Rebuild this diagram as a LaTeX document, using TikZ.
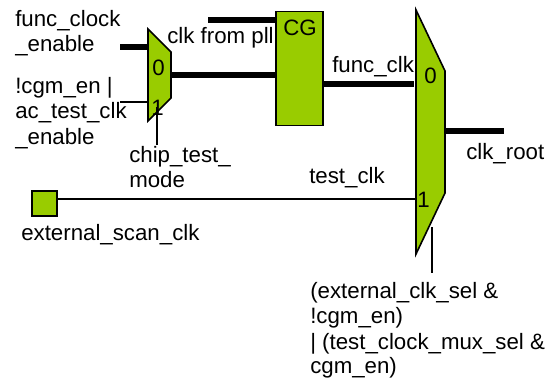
\documentclass[tikz,border=0pt]{standalone}
\usepackage{fontspec}
\setmainfont{Liberation Sans}
\definecolor{muxgreen}{RGB}{153,204,0}
\tikzset{
  x=0.75pt,y=-0.75pt,
  lbl/.style={inner sep=0pt,anchor=base west,font=\fontsize{16.7}{16.7}\selectfont,text=black},
  shapefill/.style={draw=black,fill=muxgreen,line width=1.2pt,line join=miter},
  thickwire/.style={line width=3.8pt},
  thinwire/.style={line width=1.1pt},
  boxnode/.style={shapefill,inner sep=0pt,minimum width=#1}
}
\begin{document}
\begin{tikzpicture}
\useasboundingbox (0,0) rectangle (548,379);
% small mux
\draw[shapefill] (148,29) -- (171,52) -- (171,98) -- (148,121) -- cycle;
\coordinate (smallIn0) at (148,47);
\coordinate (smallIn1) at (148,102);
\coordinate (smallOut) at (171,75);
\coordinate (smallSelTop) at (157,107);
\coordinate (smallSelEnd) at (157,145);
% big mux
\draw[shapefill] (416,10) -- (445,71) -- (445,193) -- (416,254) -- cycle;
\coordinate (bigIn0) at (414,84);
\coordinate (bigIn1) at (415,199);
\coordinate (bigOut) at (445,131);
\coordinate (bigSelTop) at (432,227);
\coordinate (bigSelEnd) at (432,273);
% CG block
\node[boxnode=35.25pt,minimum height=85.5pt] (cg) at (299.5,68.5) {};
% external clock pad
\node[boxnode=18.75pt,minimum height=18.75pt] (pad) at (44.5,203.5) {};
% free ends
\coordinate (pllEnd) at (208,20);
\coordinate (fceEnd) at (120,47);
\coordinate (acEnd) at (120,102);
\coordinate (rootEnd) at (504,131);
% connectors
\draw[thickwire] (pllEnd) -- (pllEnd -| cg.west);
\draw[thickwire] (fceEnd) -- (smallIn0);
\draw[thinwire] (acEnd) -- (smallIn1);
\draw[thickwire] (smallOut) -- (smallOut -| cg.west);
\draw[thickwire] (bigIn0 -| cg.east) -- (bigIn0);
\draw[thickwire] (bigOut) -- (rootEnd);
\draw[thinwire] (pad.east |- bigIn1) -- (bigIn1);
\draw[thinwire] (smallSelTop) -- (smallSelEnd);
\draw[thinwire] (bigSelTop) -- (bigSelEnd);
% labels
\node[lbl] (l1) at (15,26) {func\_clock};
\node[lbl] (l2) at (15,51) {\_enable};
\node[lbl] (l3) at (15,93) {!cgm\_en |};
\node[lbl] (l4) at (15,118) {ac\_test\_clk};
\node[lbl] (l5) at (15,144) {\_enable};
\node[lbl] (l6) at (129,162) {chip\_test\_};
\node[lbl] (l7) at (129,187) {mode};
\node[lbl] (l8) at (167,43) {clk from pll};
\node[lbl] (l9) at (283,35) {CG};
\node[lbl] (l10) at (332,72) {func\_clk};
\node[lbl] (l11) at (466,159) {clk\_root};
\node[lbl] (l12) at (309,183) {test\_clk};
\node[lbl] (l13) at (152,75) {0};
\node[lbl] (l14) at (151,115) {1};
\node[lbl] (l15) at (424,83) {0};
\node[lbl] (l16) at (417,207) {1};
\node[lbl] (l17) at (21,240) {external\_scan\_clk};
\node[lbl] (l18) at (310,298) {(external\_clk\_sel \&};
\node[lbl] (l19) at (310,323) {!cgm\_en)};
\node[lbl] (l20) at (310,349) {| (test\_clock\_mux\_sel \&};
\node[lbl] (l21) at (310,373) {cgm\_en)};
\end{tikzpicture}
\end{document}
